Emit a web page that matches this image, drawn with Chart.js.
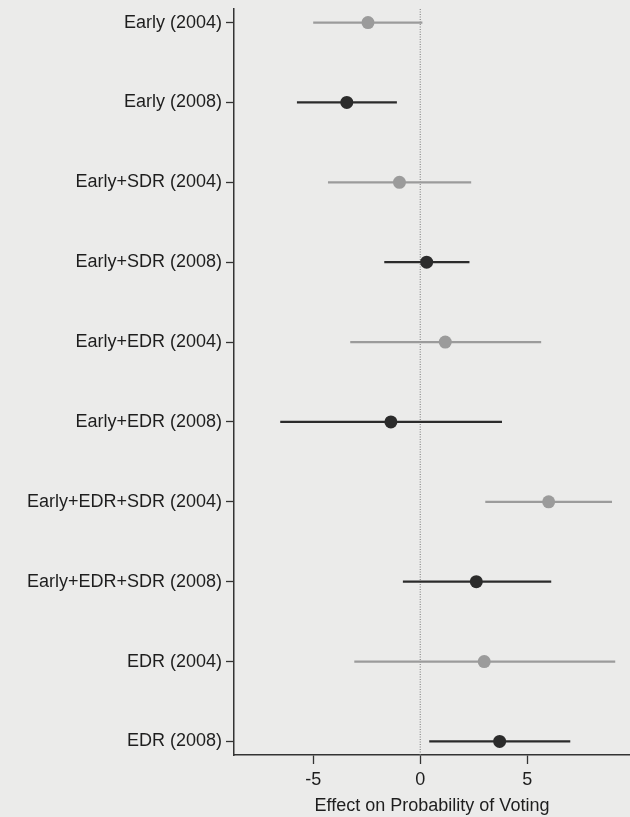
<!DOCTYPE html>
<html>
<head>
<meta charset="utf-8">
<script src="https://cdn.jsdelivr.net/npm/chart.js@4"></script>
<style>
  body { margin: 0; background: #ebebea; }
  #wrap { width: 630px; height: 817px; position: relative; }
</style>
</head>
<body>
<div id="wrap"><canvas id="grafica"></canvas></div>
<script>
////////////////////////////////Dades/////////////////////////////////////////
var labels = ['Early (2004)', 'Early (2008)', 'Early+SDR (2004)', 'Early+SDR (2008)',
  'Early+EDR (2004)', 'Early+EDR (2008)', 'Early+EDR+SDR (2004)', 'Early+EDR+SDR (2008)',
  'EDR (2004)', 'EDR (2008)']
var estimates = [-2.44, -3.43, -0.97, 0.30, 1.17, -1.37, 6.00, 2.62, 2.99, 3.71]
var lower = [-5.00, -5.76, -4.31, -1.68, -3.27, -6.54, 3.04, -0.81, -3.08, 0.42]
var upper = [0.10, -1.09, 2.38, 2.30, 5.65, 3.82, 8.96, 6.12, 9.11, 7.01]
var xTicks = [-5, 0, 5]
var xTitle = 'Effect on Probability of Voting'
////////////////////////////////////////////////////////////////////////////////

var gray = '#9b9b9b'
var dark = '#2b2b2b'
var ink = '#1e1e1e'
var font = { family: "'Liberation Sans', Arial, sans-serif", size: 18 }

function colorFor(i) {
  return labels[i].indexOf('2004') >= 0 ? gray : dark
}

/////////////////////////Construim els datasets/////////////////////////////////
let datasets = []
// punt estimat
datasets.push({
  data: estimates.map((v, i) => ({ x: v, y: i + 1 })),
  backgroundColor: estimates.map((v, i) => colorFor(i)),
  borderColor: estimates.map((v, i) => colorFor(i)),
  pointRadius: 6.5,
  pointBorderWidth: 0,
  showLine: false,
  order: 0
})
// intervals
labels.forEach((l, i) => {
  datasets.push({
    data: [{ x: lower[i], y: i + 1 }, { x: upper[i], y: i + 1 }],
    borderColor: colorFor(i),
    borderWidth: 2.2,
    pointRadius: 0,
    showLine: true,
    order: 1
  })
})
// linia del zero
datasets.push({
  data: [{ x: 0, y: 0.83 }, { x: 0, y: 10.17 }],
  borderColor: '#777777',
  borderWidth: 1,
  borderDash: [1, 1.5],
  pointRadius: 0,
  showLine: true,
  order: 2
})
////////////////////////////////////////////////////////////////////////////////

var ctx = document.getElementById('grafica').getContext('2d')
var chart = new Chart(ctx, {
  type: 'scatter',
  data: { datasets: datasets },
  options: {
    responsive: true,
    maintainAspectRatio: false,
    animation: false,
    layout: { autoPadding: false, padding: { top: 9, right: 0, left: 0, bottom: 0 } },
    plugins: { legend: { display: false }, tooltip: { enabled: false } },
    scales: {
      x: {
        type: 'linear',
        min: -8.7,
        max: 9.8,
        afterBuildTicks: (scale) => { scale.ticks = xTicks.map(v => ({ value: v })) },
        afterFit: (scale) => {
          scale.height = 62
          scale.paddingLeft = 0
          scale.paddingRight = 0
        },
        grid: { drawOnChartArea: false, drawTicks: true, tickLength: 9, tickColor: '#333', tickWidth: 1.3 },
        border: { color: '#333', width: 1.5 },
        ticks: { color: ink, font: font, padding: 5, maxRotation: 0, callback: (v) => String(v) },
        title: { display: true, text: xTitle, color: ink, font: font, padding: { top: 0, bottom: 0 } }
      },
      y: {
        type: 'linear',
        reverse: true,
        min: 0.83,
        max: 10.17,
        afterBuildTicks: (scale) => { scale.ticks = labels.map((l, i) => ({ value: i + 1 })) },
        afterFit: (scale) => {
          scale.width = 234
          scale.paddingTop = 0
          scale.paddingBottom = 0
        },
        grid: { drawOnChartArea: false, drawTicks: true, tickLength: 8, tickColor: '#333', tickWidth: 1.3 },
        border: { color: '#333', width: 1.5 },
        ticks: { color: ink, font: font, padding: 4, autoSkip: false, callback: (v) => labels[v - 1] }
      }
    }
  }
})
</script>
</body>
</html>
